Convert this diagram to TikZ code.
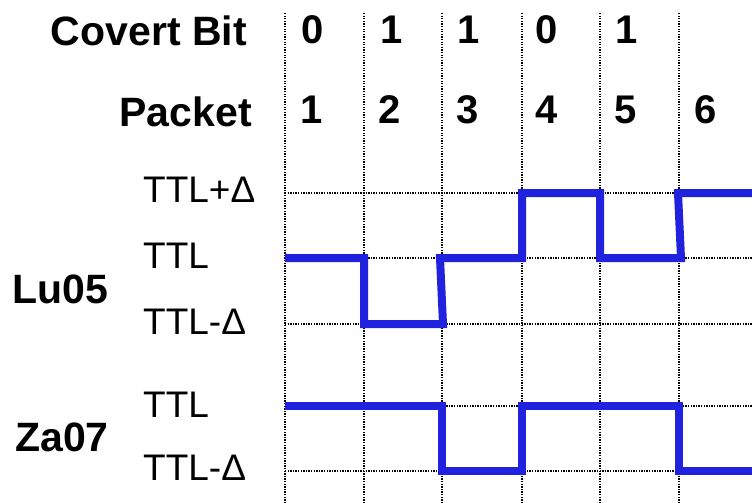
\documentclass[tikz,border=0pt]{standalone}
\usepackage{fontspec}
\setmainfont{Liberation Sans}
\definecolor{wblue}{RGB}{32,34,221}
\begin{document}
\begin{tikzpicture}[x=1pt,y=-1pt,
  grid/.style={black, line width=1.4pt, dash pattern=on 1.3pt off 1.3pt},
  wave/.style={line width=8pt, draw=wblue, line join=miter, line cap=butt},
  head/.style={font=\fontsize{41}{41}\selectfont\bfseries, inner sep=0pt},
  digit/.style={font=\fontsize{40}{40}\selectfont\bfseries, inner sep=0pt, anchor=west},
  lvl/.style={font=\fontsize{37}{37}\selectfont, inner sep=0pt, anchor=west}]
\useasboundingbox (0,0) rectangle (752,503);
% grid
\foreach \x in {285,364,442,522,600,679} \draw[grid] (\x,13) -- (\x,503);
\foreach \y in {193,258,324,406,471} \draw[grid] (285,\y) -- (752,\y);
% headings
\node[head, anchor=east] (cb) at (247,31) {Covert Bit};
\node[head, anchor=east] (pk) at (252,112) {Packet};
\node[head, anchor=west] (lu) at (12,289) {Lu05};
\node[head, anchor=west] (za) at (15,437) {Za07};
% level labels
\node[lvl] (l1) at (143,190) {TTL+Δ};
\node[lvl] (l2) at (143,256) {TTL};
\node[lvl] (l3) at (143,322) {TTL-Δ};
\node[lvl] (l4) at (143,405) {TTL};
\node[lvl] (l5) at (143,468) {TTL-Δ};
% covert bits
\node[digit] (b1) at (301,30) {0};
\node[digit] (b2) at (380,30) {1};
\node[digit] (b3) at (457,30) {1};
\node[digit] (b4) at (535,30) {0};
\node[digit] (b5) at (615,30) {1};
% packets
\node[digit] (p1) at (300,110) {1};
\node[digit] (p2) at (378,110) {2};
\node[digit] (p3) at (456,110) {3};
\node[digit] (p4) at (535,110) {4};
\node[digit] (p5) at (614,110) {5};
\node[digit] (p6) at (694,110) {6};
% waves
\draw[wave] (285,258) -- (364,258) -- (364,324) -- (443,324) -- (440,258)
  -- (522,258) -- (522,193) -- (600,193) -- (600,258) -- (681,258)
  -- (678,193) -- (752,193);
\draw[wave] (285,406) -- (442,406) -- (442,471) -- (522,471) -- (522,406)
  -- (679,406) -- (679,471) -- (752,471);
\end{tikzpicture}
\end{document}
